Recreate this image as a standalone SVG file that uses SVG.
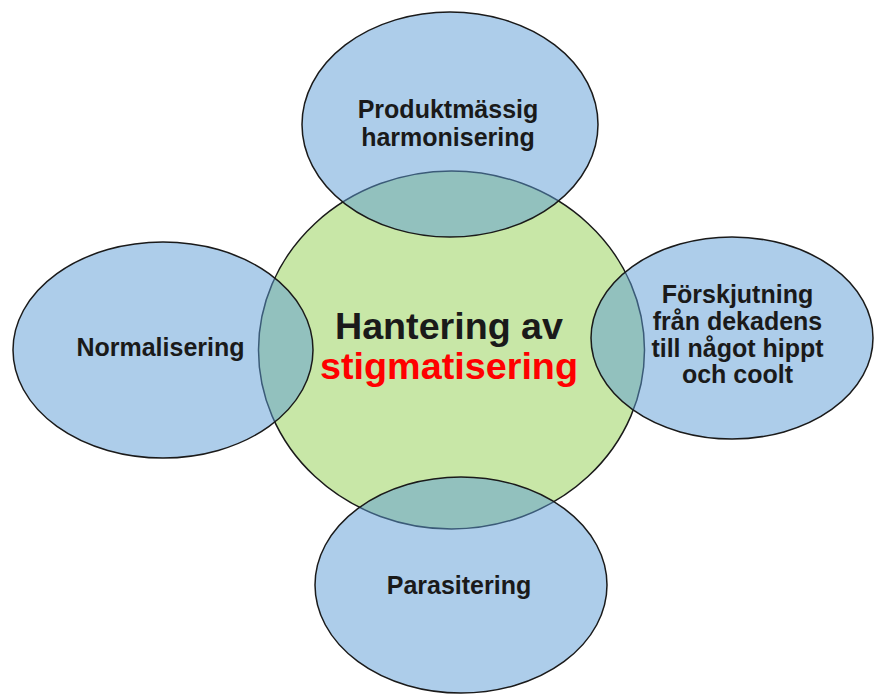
<svg xmlns="http://www.w3.org/2000/svg" width="877" height="694" viewBox="0 0 877 694">
<style>
.blue{fill:#5b9bd5;fill-opacity:0.5;stroke:#1a1a1a;stroke-width:1.5}
.green{fill:#92d050;fill-opacity:0.5;stroke:#1a1a1a;stroke-width:1.5}
.t{font-family:"Liberation Sans",Arial,sans-serif;font-weight:bold;fill:#1a1a1a;text-anchor:middle}
.s{font-size:25px}
.c{font-size:37px}
.red{fill:#ff0000}
</style>
<rect width="877" height="694" fill="#ffffff"/>
<g id="center">
<ellipse class="green" cx="451.5" cy="350" rx="193" ry="179"/>
</g>
<g id="top">
<ellipse class="blue" cx="450" cy="124.5" rx="148" ry="112.5"/>
<text class="t s" x="448" y="118">Produktmässig</text>
<text class="t s" x="448" y="146">harmonisering</text>
</g>
<g id="left">
<ellipse class="blue" cx="163" cy="350" rx="150" ry="108"/>
<text class="t s" x="160.5" y="356">Normalisering</text>
</g>
<g id="right">
<ellipse class="blue" cx="732" cy="338" rx="141" ry="101"/>
<text class="t s" x="737.5" y="303">Förskjutning</text>
<text class="t s" x="737.5" y="330">från dekadens</text>
<text class="t s" x="737.5" y="357">till något hippt</text>
<text class="t s" x="737.5" y="383">och coolt</text>
</g>
<g id="bottom">
<ellipse class="blue" cx="461" cy="585" rx="146" ry="108"/>
<text class="t s" x="459" y="594">Parasitering</text>
</g>
<g id="center-label">
<text class="t c" x="449" y="339" textLength="228" lengthAdjust="spacingAndGlyphs">Hantering av</text>
<text class="t c red" x="449" y="379" textLength="258" lengthAdjust="spacingAndGlyphs">stigmatisering</text>
</g>
<g id="connectors"></g>
</svg>
